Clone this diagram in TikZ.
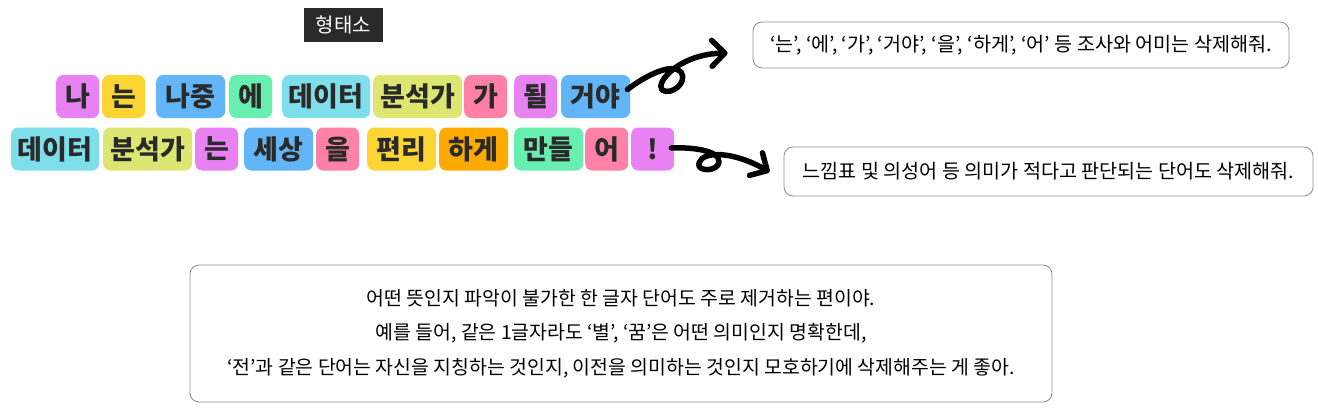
\documentclass[tikz,border=0pt]{standalone}
\usepackage{fontspec}
\setmainfont{Noto Sans CJK KR}
\usepackage{tikz}
\usetikzlibrary{calc, arrows.meta}
\usepackage{xcolor}

% token colours
\definecolor{tokmagenta}{HTML}{E882F2}
\definecolor{tokyellow}{HTML}{FCD535}
\definecolor{tokblue}{HTML}{62B5F6}
\definecolor{tokgreen}{HTML}{68EFAF}
\definecolor{tokcyan}{HTML}{7EDEEA}
\definecolor{toklime}{HTML}{DDE670}
\definecolor{tokpink}{HTML}{FF80A8}
\definecolor{tokorange}{HTML}{FFAA00}
\definecolor{tokink}{HTML}{2A2A2A}
\definecolor{noteline}{HTML}{8A8A8A}

\tikzset{
  tok/.style={fill=#1, rounded corners=7pt, text=tokink, inner sep=0pt,
    minimum height=43pt, anchor=west, font=\fontsize{27}{27}\selectfont\bfseries},
  note/.style={draw=noteline, line width=0.8pt, rounded corners=9pt, inner sep=0pt,
    font=\fontsize{19.6}{19.6}\selectfont},
  squiggle/.style={line width=5.5pt, line cap=round, line join=round,
    -{Straight Barb[length=13pt, width=26pt, line cap=round, line join=round]}}
}

\begin{document}
\begin{tikzpicture}[x=1pt, y=-1pt] % pixel coordinates, y runs downward

    \useasboundingbox (0,0) rectangle (1318,412);

    % ==========================================
    % LABEL
    % ==========================================
    \node[fill=tokink, text=white, minimum width=79pt, minimum height=34pt, inner sep=0pt,
          font=\fontsize{20}{20}\selectfont] (morph) at (343.5,25) {형태소};

    % ==========================================
    % FIRST SENTENCE (row 1)
    % ==========================================
    \def\rowone{96.5}
    \node[tok=tokmagenta, minimum width=43pt] (na)      at (56,\rowone)  {나};
    \node[tok=tokyellow,  minimum width=43pt] (neun)    at (102,\rowone) {는};
    \node[tok=tokblue,    minimum width=69pt] (najung)  at (156,\rowone) {나중};
    \node[tok=tokgreen,   minimum width=43pt] (e)       at (229,\rowone) {에};
    \node[tok=tokcyan,    minimum width=88pt] (data)    at (282,\rowone) {데이터};
    \node[tok=toklime,    minimum width=89pt] (analyst) at (373,\rowone) {분석가};
    \node[tok=tokpink,    minimum width=43pt] (ga)      at (464,\rowone) {가};
    \node[tok=tokmagenta, minimum width=43pt] (doel)    at (514,\rowone) {될};
    \node[tok=tokblue,    minimum width=69pt] (geoya)   at (561,\rowone) {거야};

    % ==========================================
    % SECOND SENTENCE (row 2)
    % ==========================================
    \def\rowtwo{149}
    \node[tok=tokcyan,    minimum width=88pt] (dataB)    at (11,\rowtwo)  {데이터};
    \node[tok=toklime,    minimum width=89pt] (analystB) at (103,\rowtwo) {분석가};
    \node[tok=tokmagenta, minimum width=43pt] (neunB)    at (195,\rowtwo) {는};
    \node[tok=tokblue,    minimum width=69pt] (sesang)   at (244,\rowtwo) {세상};
    \node[tok=tokpink,    minimum width=43pt] (eul)      at (316,\rowtwo) {을};
    \node[tok=tokyellow,  minimum width=69pt] (pyeonri)  at (367,\rowtwo) {편리};
    \node[tok=tokorange,  minimum width=69pt] (hage)     at (439,\rowtwo) {하게};
    \node[tok=tokgreen,   minimum width=69pt] (mandeul)  at (514,\rowtwo) {만들};
    \node[tok=tokpink,    minimum width=43pt] (eo)       at (585,\rowtwo) {어};
    \node[tok=tokmagenta, minimum width=43pt] (excl)     at (631,\rowtwo) {!};

    % ==========================================
    % NOTES
    % ==========================================
    \node[note, minimum width=536pt, minimum height=46pt] (noteone) at (1021,45)
        {‘는’, ‘에’, ‘가’, ‘거야’, ‘을’, ‘하게’, ‘어’ 등 조사와 어미는 삭제해줘.};
    \node[note, minimum width=529pt, minimum height=49pt] (notetwo) at (1048.5,171.5)
        {느낌표 및 의성어 등 의미가 적다고 판단되는 단어도 삭제해줘.};
    \node[note, minimum width=862pt, minimum height=137pt, align=center,
          font=\fontsize{19.4}{34.5}\selectfont] (notethree) at (621,333.5)
        {어떤 뜻인지 파악이 불가한 한 글자 단어도 주로 제거하는 편이야.\\
         예를 들어, 같은 1글자라도 ‘별’, ‘꿈’은 어떤 의미인지 명확한데,\\
         ‘전’과 같은 단어는 자신을 지칭하는 것인지, 이전을 의미하는 것인지 모호하기에 삭제해주는 게 좋아.};

    % ==========================================
    % CURLY ARROWS
    % ==========================================
    % Free ends stop short of the notes
    \coordinate (tipone) at ($(noteone.west)+(-25,8)$);
    \coordinate (tiptwo) at ($(notetwo.west)+(-14,0.5)$);

    \draw[squiggle] ($(geoya.east)+(-3,-7)$)
        .. controls (645,76) and (672,62) .. (681,72)
        .. controls (688,82) and (672,96) .. (662,90)
        .. controls (655,82) and (680,54) .. (tipone);

    \draw[squiggle] ($(excl.east)+(-3,-1)$)
        .. controls (690,147) and (720,150) .. (719,162)
        .. controls (718,172) and (696,172) .. (699,163)
        .. controls (703,150) and (735,152) .. (tiptwo);

\end{tikzpicture}
\end{document}
